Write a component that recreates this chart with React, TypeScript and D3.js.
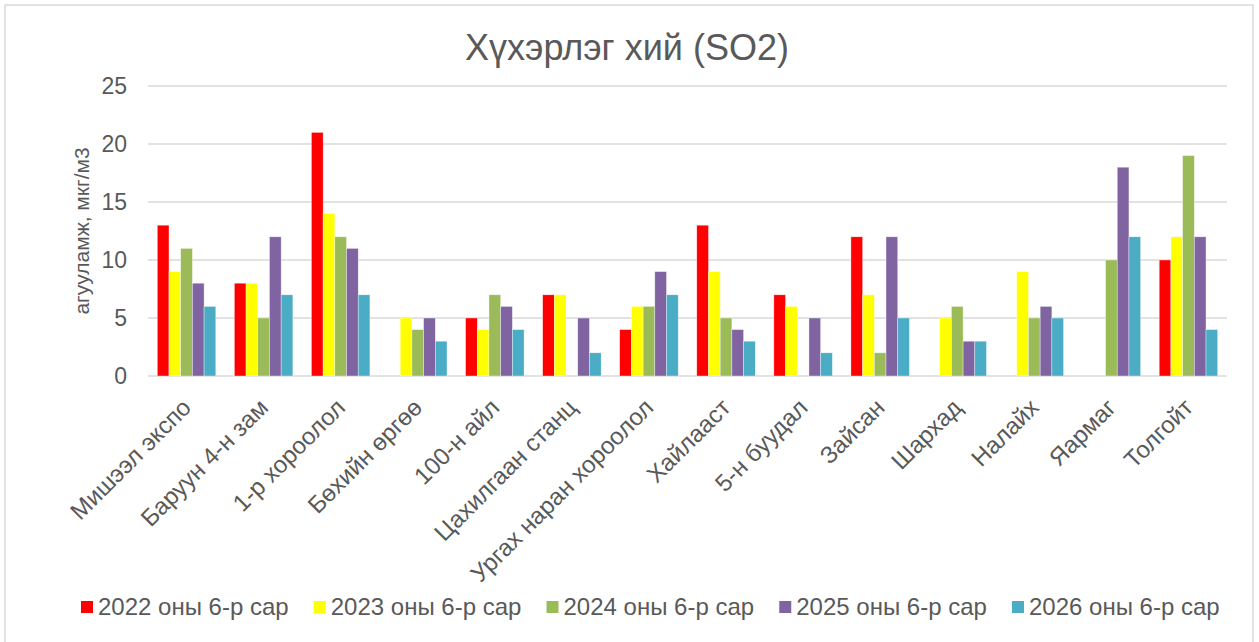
import React from "react";
import * as d3 from "d3";

const categories = [
  "Мишээл экспо",
  "Баруун 4-н зам",
  "1-р хороолол",
  "Бөхийн өргөө",
  "100-н айл",
  "Цахилгаан станц",
  "Ургах наран хороолол",
  "Хайлааст",
  "5-н буудал",
  "Зайсан",
  "Шархад",
  "Налайх",
  "Яармаг",
  "Толгойт",
];

const seriesNames = [
  "2022 оны 6-р сар",
  "2023 оны 6-р сар",
  "2024 оны 6-р сар",
  "2025 оны 6-р сар",
  "2026 оны 6-р сар",
];

const colors = ["#FF0000", "#FFFF00", "#9BBB59", "#8064A2", "#4BACC6"];

// null = no measurement (no bar)
const v2022 = [13, 8, 21, null, 5, 7, 4, 13, 7, 12, null, null, null, 10];
const v2023 = [9, 8, 14, 5, 4, 7, 6, 9, 6, 7, 5, 9, null, 12];
const v2024 = [11, 5, 12, 4, 7, null, 6, 5, null, 2, 6, 5, 10, 19];
const v2025 = [8, 12, 11, 5, 6, 5, 9, 4, 5, 12, 3, 6, 18, 12];
const v2026 = [6, 7, 7, 3, 4, 2, 7, 3, 2, 5, 3, 5, 12, 4];
const seriesValues = [v2022, v2023, v2024, v2025, v2026];

const yTicks = [0, 5, 10, 15, 20, 25];

const W = 1259;
const H = 642;
const plot = { left: 148, right: 1227, top: 86, bottom: 376 };
const font = "'Liberation Sans', Arial, sans-serif";
const textColor = "#595959";

export default function App() {
  const x = d3
    .scaleBand<number>()
    .domain(categories.map((_, i) => i))
    .range([plot.left, plot.right])
    .paddingInner(0.241)
    .paddingOuter(0.1205);

  const xs = d3
    .scaleBand<number>()
    .domain(seriesNames.map((_, i) => i))
    .range([0, x.bandwidth()])
    .padding(0);

  const y = d3.scaleLinear().domain([0, 25]).range([plot.bottom, plot.top]);

  const step = x.step();

  // legend layout
  const legendStart = 81;
  const legendStep = 232.75;
  const legendY = 607;

  return (
    <svg
      width={W}
      height={H}
      style={{ position: "absolute", left: 0, top: 0, background: "#fff" }}
      fontFamily={font}
    >
      <rect x={0} y={0} width={W} height={H} fill="#fff" />
      <rect x={5} y={5} width={1248} height={645} fill="none" stroke="#D9D9D9" strokeWidth={1.5} />

      <text x={627} y={60} textAnchor="middle" fontSize={36} fill={textColor}>
        Хүхэрлэг хий (SO2)
      </text>

      {/* gridlines + y ticks */}
      {yTicks.map((t) => (
        <g key={t}>
          <line
            x1={plot.left}
            x2={plot.right}
            y1={y(t)}
            y2={y(t)}
            stroke="#D9D9D9"
            strokeWidth={1.3}
          />
          <text
            x={127}
            y={y(t)}
            dy="0.35em"
            textAnchor="end"
            fontSize={23}
            fill={textColor}
          >
            {t}
          </text>
        </g>
      ))}

      <text
        transform={`translate(89,${(plot.top + plot.bottom) / 2}) rotate(-90)`}
        textAnchor="middle"
        fontSize={21}
        fill={textColor}
      >
        агууламж, мкг/м3
      </text>

      {/* bars */}
      {seriesValues.map((vals, s) =>
        vals.map((v, i) =>
          v == null ? null : (
            <rect
              key={`${s}-${i}`}
              x={(x(i) ?? 0) + (xs(s) ?? 0)}
              y={y(v)}
              width={xs.bandwidth()}
              height={y(0) - y(v)}
              fill={colors[s]}
              stroke="#fff"
              strokeOpacity={0.6}
              strokeWidth={0.6}
            />
          )
        )
      )}

      {/* category labels */}
      {categories.map((c, i) => {
        const cx = plot.left + step * (i + 0.5);
        return (
          <text
            key={c}
            transform={`translate(${cx + 6},${plot.bottom + 33}) rotate(-45)`}
            textAnchor="end"
            fontSize={24}
            fill={textColor}
          >
            {c}
          </text>
        );
      })}

      {/* legend */}
      {seriesNames.map((n, s) => (
        <g key={n} transform={`translate(${legendStart + s * legendStep},${legendY})`}>
          <rect x={0} y={-6} width={12} height={12} fill={colors[s]} />
          <text x={17} y={0} dy="0.35em" fontSize={24} fill={textColor}>
            {n}
          </text>
        </g>
      ))}
    </svg>
  );
}
